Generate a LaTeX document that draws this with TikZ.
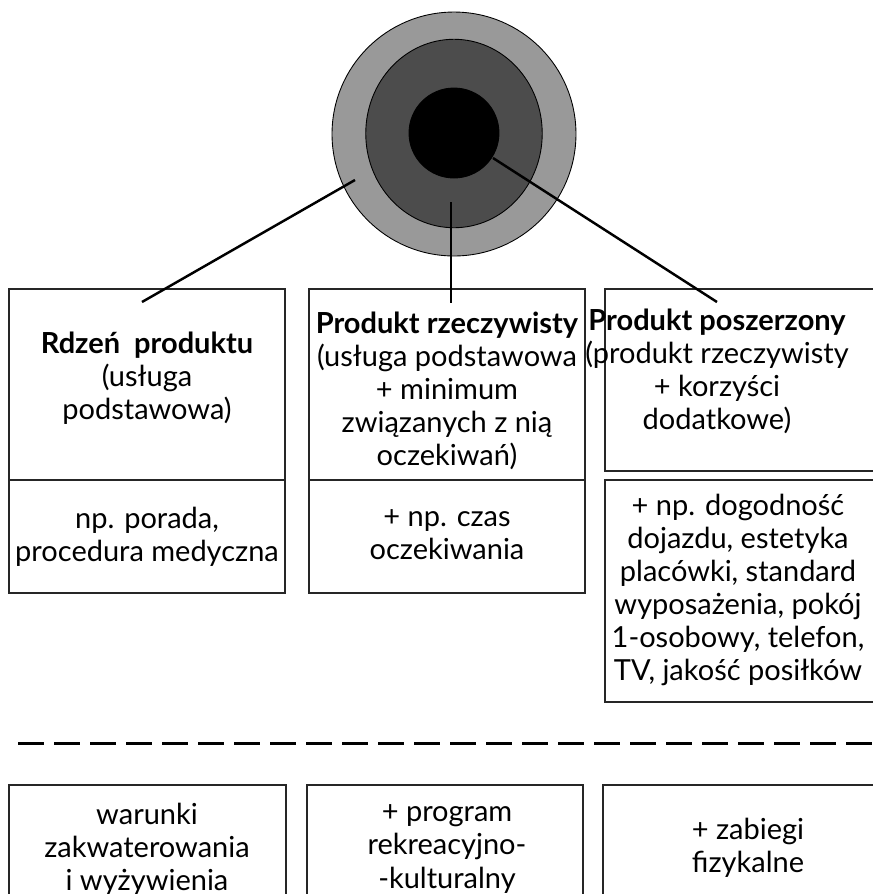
\documentclass[tikz,border=0pt]{standalone}
\usepackage{fontspec}
\setmainfont{Lato}
\usetikzlibrary{shapes.geometric, positioning}

\begin{document}
\begin{tikzpicture}[
    x=0.02cm, y=-0.02cm,   % 1 unit = 1 px of the figure, y running down
    font=\fontsize{16.5}{18.8}\selectfont,
    ring/.style={draw=black, line width=0.5pt, inner sep=0pt},
    box/.style={rectangle, draw=black!85, line width=0.8pt, inner sep=0pt},
    txt/.style={align=center, inner sep=0pt},
    link/.style={line width=1.4pt},
]
\useasboundingbox (0,0) rectangle (873,894);
\clip (0,0) rectangle (873,894);

% ── Product levels (rings) ───────────────────────────────────────────────────
\node[ring, circle, fill=black!40, minimum size=4.88cm] (outer) at (454,134) {};
\node[ring, ellipse, fill=black!70, minimum width=3.53cm, minimum height=3.77cm]
    (middle) at (454,133.5) {};
\node[ring, circle, fill=black, minimum size=1.8cm] (core) at (454,133) {};

% ── Boxes: upper row ─────────────────────────────────────────────────────────
\node[box, minimum width=5.52cm, minimum height=3.82cm] (b1u) at (147,384.5) {};
\node[box, minimum width=5.52cm, minimum height=2.26cm] (b1l) at (147,536.5) {};
\node[box, minimum width=5.52cm, minimum height=3.82cm] (b2u) at (447,384.5) {};
\node[box, minimum width=5.52cm, minimum height=2.26cm] (b2l) at (447,536.5) {};
\node[box, minimum width=5.5cm,  minimum height=3.64cm] (b3u) at (742.5,380) {};
\node[box, minimum width=5.5cm,  minimum height=4.44cm] (b3l) at (742.5,591) {};

% ── Texts: upper row ─────────────────────────────────────────────────────────
\node[txt] (t1u) at (147,378) {\textbf{Rdzeń\ \ produktu}\\(usługa\\podstawowa)};
\node[txt] (t1l) at (147,537) {np. porada,\\procedura medyczna};
\node[txt] (t2u) at (447,391) {\textbf{Produkt rzeczywisty}\\(usługa podstawowa\\+ minimum\\związanych z nią\\oczekiwań)};
\node[txt] (t2l) at (447,535) {+ np. czas\\oczekiwania};
\node[txt] (t3u) at (717,371) {\textbf{Produkt poszerzony}\\(produkt rzeczywisty\\+ korzyści\\dodatkowe)};
\node[txt] (t3l) at (738,590) {+ np. dogodność\\dojazdu, estetyka\\placówki, standard\\wyposażenia, pokój\\1-osobowy, telefon,\\TV, jakość posiłków};

% ── Connectors ───────────────────────────────────────────────────────────────
\coordinate (s1) at (355,180);
\coordinate (s2) at (451,202);
\coordinate (s3) at (493,158);
\coordinate (e1) at (142,302);
\coordinate (e2) at (451,303);
\coordinate (e3) at (717,302);
\draw[link] (s1) -- (e1);
\draw[link] (s2) -- (e2);
\draw[link] (s3) -- (e3);

% ── Separator ────────────────────────────────────────────────────────────────
\coordinate (d1) at (18,743);
\coordinate (d2) at (873,743);
\draw[line width=1.7pt, dash pattern=on 14.8pt off 5.7pt] (d1) -- (d2);

% ── Boxes: lower row ─────────────────────────────────────────────────────────
\node[box, minimum width=5.54cm, minimum height=2.5cm] (ba) at (147.5,847.5) {};
\node[box, minimum width=5.52cm, minimum height=2.5cm] (bb) at (445,847.5) {};
\node[box, minimum width=5.54cm, minimum height=2.5cm] (bc) at (741.5,847.5) {};

\node[txt] (ta) at (147,849) {warunki\\zakwaterowania\\i wyżywienia};
\node[txt] (tb) at (447,849) {+ program\\rekreacyjno-\\-kulturalny};
\node[txt] (tc) at (748,848) {+ zabiegi\\fizykalne};

\end{tikzpicture}
\end{document}
